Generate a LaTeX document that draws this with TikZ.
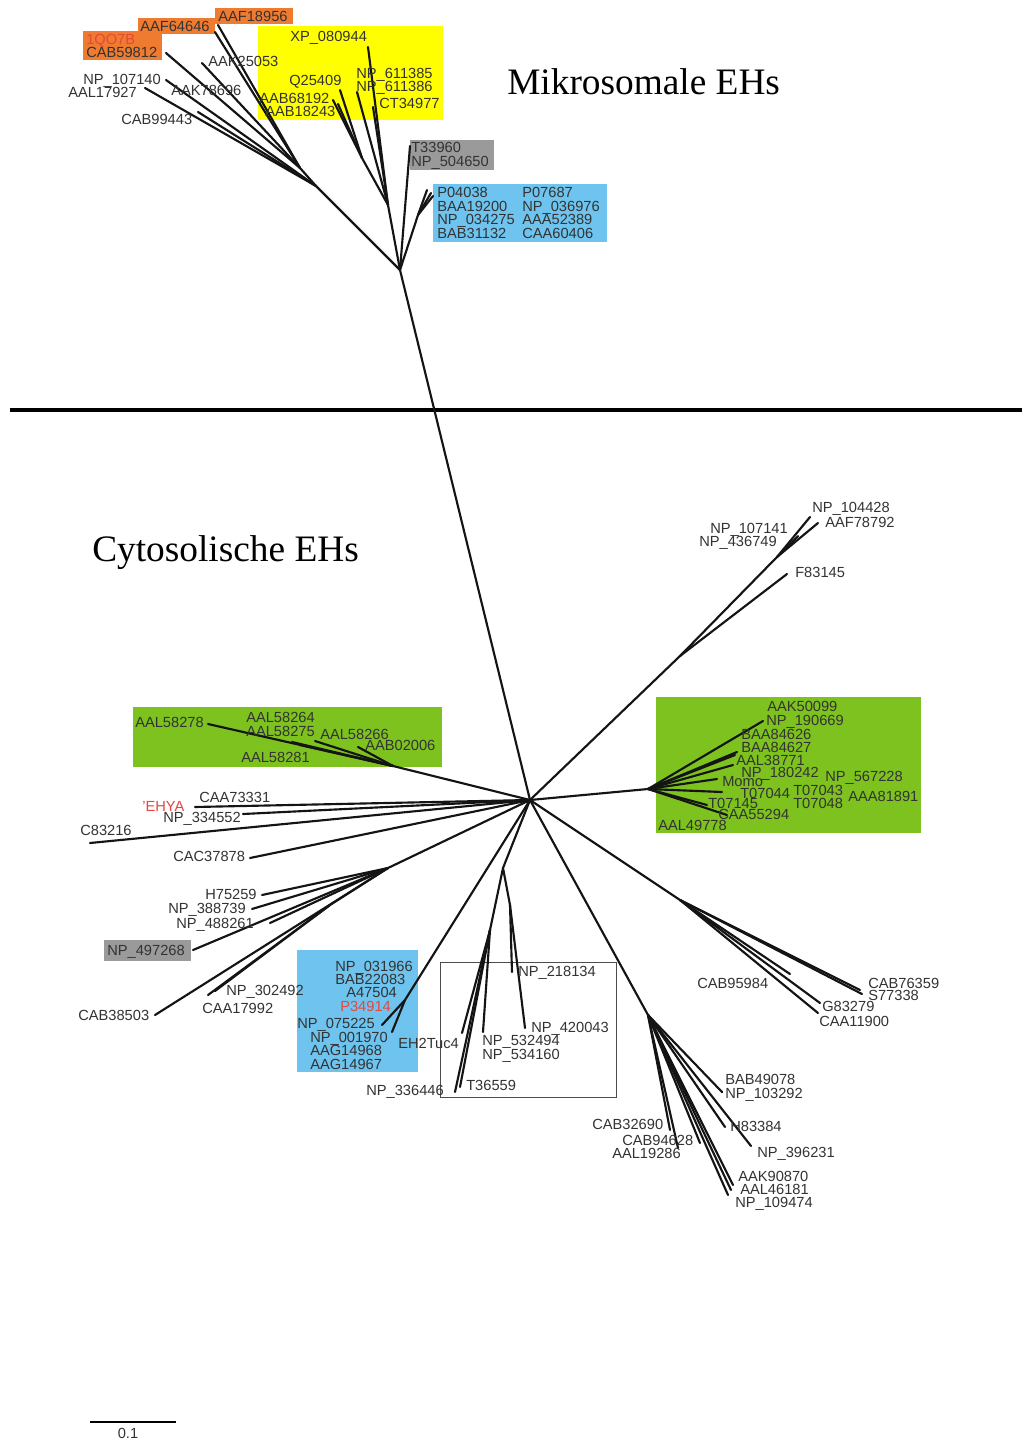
\documentclass[tikz,border=0pt]{standalone}
\usepackage{fontspec}
\setmainfont{Liberation Serif}
\setsansfont{Liberation Sans}
\definecolor{txtgray}{HTML}{333333}
\definecolor{orbox}{HTML}{EE7B30}
\definecolor{yebox}{HTML}{FFFF00}
\definecolor{grbox}{HTML}{9A9A9A}
\definecolor{blbox}{HTML}{6EC4EE}
\definecolor{gnbox}{HTML}{7DC21E}
\definecolor{redtxt}{HTML}{E8453C}
\begin{document}
\begin{tikzpicture}[x=0.75pt,y=-0.75pt,
  branch/.style={line width=1.6pt,line cap=round,line join=round,draw=black!92},
  lab/.style={anchor=base west,inner sep=0pt,yshift=-4.1pt,
    font=\sffamily\fontsize{11}{11}\selectfont,text=txtgray},
  redlab/.style={lab,text=redtxt},
  title/.style={anchor=base west,inner sep=0pt,font=\rmfamily\fontsize{28}{28}\selectfont,text=black}]
\useasboundingbox (0,0) rectangle (1022,1441);
\fill[white] (0,0) rectangle (1022,1441);

% coloured boxes behind the groups
\fill[orbox] (83,31) rectangle (162,60);
\fill[orbox] (138,18) rectangle (215,34);
\fill[orbox] (215,8) rectangle (293,24);
\fill[yebox] (258,26) rectangle (443,120);
\fill[grbox] (410,140) rectangle (494,170);
\fill[blbox] (433,184) rectangle (607,242);
\fill[gnbox] (133,707) rectangle (442,767);
\fill[gnbox] (656,697) rectangle (921,833);
\fill[grbox] (104,940) rectangle (191,961);
\fill[blbox] (297,950) rectangle (418,1072);
\draw[black!70,line width=0.6pt] (440,962) rectangle (616,1097);

% separator between the two families
\draw[line width=2.3pt] (10,410) -- (1022,410);

% ---------- internal nodes ----------
\coordinate (top) at (400,270);
\coordinate (cen) at (530,800);
\coordinate (tL) at (316,186);
\coordinate (tLa) at (300,168);
\coordinate (tY) at (388,205);
\coordinate (tYa) at (362,158);
\coordinate (tB) at (418,215);
\coordinate (nR1) at (680,656);
\coordinate (nR2) at (777,557);
\coordinate (gR) at (648,789);
\coordinate (gL) at (393,766);
\coordinate (nLL) at (388,868);
\coordinate (nLL2) at (330,905);
\coordinate (nBl) at (405,1000);
\coordinate (nBox) at (503,868);
\coordinate (nBoxA) at (510,905);
\coordinate (nBoxB) at (490,930);
\coordinate (nDR) at (680,900);
\coordinate (nB) at (648,1015);

% ---------- tree ----------
\draw[branch] (cen) -- (top);
% microsomal part
\draw[branch] (top) -- (tL) -- (tLa);
\foreach \p [count=\i] in {(198,112),(145,88),(166,80)}
  \draw[branch] (tL) -- \p coordinate (tL-\i);
\foreach \p [count=\i] in {(166,53),(202,63),(215,32),(218,25)}
  \draw[branch] (tLa) -- \p coordinate (tLa-\i);
\draw[branch] (top) -- (tY) -- (tYa);
\foreach \p [count=\i] in {(368,47),(357,92),(373,107)}
  \draw[branch] (tY) -- \p coordinate (tY-\i);
\foreach \p [count=\i] in {(340,90),(333,100),(338,104)}
  \draw[branch] (tYa) -- \p coordinate (tYa-\i);
\draw[branch] (top) -- (410,146) coordinate (t33960);
\draw[branch] (top) -- (tB);
\foreach \p [count=\i] in {(427,190),(431,193),(433,196)}
  \draw[branch] (tB) -- \p coordinate (tB-\i);

% cytosolic part
\draw[branch] (cen) -- (nR1) -- (nR2);
\draw[branch] (nR1) -- (787,574) coordinate (f83145);
\foreach \p [count=\i] in {(810,517),(818,523),(798,536)}
  \draw[branch] (nR2) -- \p coordinate (nR2-\i);
\draw[branch] (cen) -- (gR);
\foreach \p [count=\i] in {(763,721),(737,752),(735,755),(733,765),(717,779),(722,792),(707,805),(727,815)}
  \draw[branch] (gR) -- \p coordinate (gR-\i);
\draw[branch] (cen) -- (gL);
\foreach \p [count=\i] in {(208,724),(292,742),(300,745),(315,741),(358,747)}
  \draw[branch] (gL) -- \p coordinate (gL-\i);
\foreach \p [count=\i] in {(195,807),(243,814),(90,843),(250,858)}
  \draw[branch] (cen) -- \p coordinate (cL-\i);
\draw[branch] (cen) -- (nLL) -- (nLL2);
\foreach \p [count=\i] in {(262,895),(252,909),(270,923),(193,950),(155,1015)}
  \draw[branch] (nLL) -- \p coordinate (nLL-\i);
\foreach \p [count=\i] in {(208,995),(215,991)}
  \draw[branch] (nLL2) -- \p coordinate (nLL2-\i);
\draw[branch] (cen) -- (nBl);
\foreach \p [count=\i] in {(382,1025),(392,1032)}
  \draw[branch] (nBl) -- \p coordinate (nBl-\i);
\draw[branch] (cen) -- (nBox) -- (nBoxA);
\draw[branch] (nBox) -- (nBoxB);
\foreach \p [count=\i] in {(512,972),(525,1028)}
  \draw[branch] (nBoxA) -- \p coordinate (nBoxA-\i);
\foreach \p [count=\i] in {(483,1032),(462,1033),(460,1087),(455,1092)}
  \draw[branch] (nBoxB) -- \p coordinate (nBoxB-\i);
\draw[branch] (cen) -- (nDR);
\foreach \p [count=\i] in {(790,974),(860,990),(862,994),(820,1003),(818,1013)}
  \draw[branch] (nDR) -- \p coordinate (nDR-\i);
\draw[branch] (cen) -- (nB);
\foreach \p [count=\i] in {(722,1092),(725,1127),(751,1146),(733,1185),(728,1195),(731,1190),(670,1130),(700,1143),(678,1148)}
  \draw[branch] (nB) -- \p coordinate (nB-\i);

% ---------- titles ----------
\node[title] (ttlM) at (507,95) {Mikrosomale EHs};
\node[title] (ttlC) at (92,561) {Cytosolische EHs};

% ---------- labels: microsomal ----------
\node[redlab] (l1qo7b) at (86,39) {1QO7B};
\node[lab] (lcab59812) at (86,52) {CAB59812};
\node[lab] (laaf64646) at (140,26) {AAF64646};
\node[lab] (laaf18956) at (218,16) {AAF18956};
\node[lab] (lxp080944) at (290,36) {XP\_080944};
\node[lab] (laak25053) at (208,61) {AAK25053};
\node[lab] (lnp107140) at (83,79) {NP\_107140};
\node[lab] (laal17927) at (68,92) {AAL17927};
\node[lab] (laak78696) at (171,90) {AAK78696};
\node[lab] (lcab99443) at (121,119) {CAB99443};
\node[lab] (lq25409) at (289,80) {Q25409};
\node[lab] (laab68192) at (259,98) {AAB68192};
\node[lab] (laab18243) at (265,111) {AAB18243};
\node[lab] (lnp611385) at (356,73) {NP\_611385};
\node[lab] (lnp611386) at (356,86) {NP\_611386};
\node[lab] (lct34977) at (379,103) {CT34977};
\node[lab] (lt33960) at (411,147) {T33960};
\node[lab] (lnp504650) at (411,161) {NP\_504650};
\node[lab] (lp04038) at (437,192) {P04038};
\node[lab] (lp07687) at (522,192) {P07687};
\node[lab] (lbaa19200) at (437,206) {BAA19200};
\node[lab] (lnp036976) at (522,206) {NP\_036976};
\node[lab] (lnp034275) at (437,219) {NP\_034275};
\node[lab] (laaa52389) at (522,219) {AAA52389};
\node[lab] (lbab31132) at (437,233) {BAB31132};
\node[lab] (lcaa60406) at (522,233) {CAA60406};

% ---------- labels: cytosolic ----------
\node[lab] (lnp104428) at (812,507) {NP\_104428};
\node[lab] (laaf78792) at (825,522) {AAF78792};
\node[lab] (lnp107141) at (710,528) {NP\_107141};
\node[lab] (lnp436749) at (699,541) {NP\_436749};
\node[lab] (lf83145) at (795,572) {F83145};
\node[lab] (laak50099) at (767,706) {AAK50099};
\node[lab] (lnp190669) at (766,720) {NP\_190669};
\node[lab] (lbaa84626) at (741,734) {BAA84626};
\node[lab] (lbaa84627) at (741,747) {BAA84627};
\node[lab] (laal38771) at (736,760) {AAL38771};
\node[lab] (lnp180242) at (741,772) {NP\_180242};
\node[lab] (lnp567228) at (825,776) {NP\_567228};
\node[lab] (lmomo) at (722,781) {Momo};
\node[lab] (lt07044) at (740,793) {T07044};
\node[lab] (lt07043) at (793,790) {T07043};
\node[lab] (laaa81891) at (848,796) {AAA81891};
\node[lab] (lt07145) at (708,803) {T07145};
\node[lab] (lt07048) at (793,803) {T07048};
\node[lab] (lcaa55294) at (718,814) {CAA55294};
\node[lab] (laal49778) at (658,825) {AAL49778};
\node[lab] (laal58278) at (135,722) {AAL58278};
\node[lab] (laal58264) at (246,717) {AAL58264};
\node[lab] (laal58275) at (246,731) {AAL58275};
\node[lab] (laal58266) at (320,734) {AAL58266};
\node[lab] (laab02006) at (365,745) {AAB02006};
\node[lab] (laal58281) at (241,757) {AAL58281};
\node[redlab] (lehya) at (142,806) {'EHYA};
\node[lab] (lcaa73331) at (199,797) {CAA73331};
\node[lab] (lnp334552) at (163,817) {NP\_334552};
\node[lab] (lc83216) at (80,830) {C83216};
\node[lab] (lcac37878) at (173,856) {CAC37878};
\node[lab] (lh75259) at (205,894) {H75259};
\node[lab] (lnp388739) at (168,908) {NP\_388739};
\node[lab] (lnp488261) at (176,923) {NP\_488261};
\node[lab] (lnp497268) at (107,950) {NP\_497268};
\node[lab] (lnp302492) at (226,990) {NP\_302492};
\node[lab] (lcaa17992) at (202,1008) {CAA17992};
\node[lab] (lcab38503) at (78,1015) {CAB38503};
\node[lab] (lnp031966) at (335,966) {NP\_031966};
\node[lab] (lbab22083) at (335,979) {BAB22083};
\node[lab] (la47504) at (346,992) {A47504};
\node[redlab] (lp34914) at (340,1006) {P34914};
\node[lab] (lnp075225) at (297,1023) {NP\_075225};
\node[lab] (lnp001970) at (310,1037) {NP\_001970};
\node[lab] (laag14968) at (310,1050) {AAG14968};
\node[lab] (laag14967) at (310,1064) {AAG14967};
\node[lab] (leh2tuc4) at (398,1043) {EH2Tuc4};
\node[lab] (lnp218134) at (518,971) {NP\_218134};
\node[lab] (lnp420043) at (531,1027) {NP\_420043};
\node[lab] (lnp532494) at (482,1040) {NP\_532494};
\node[lab] (lnp534160) at (482,1054) {NP\_534160};
\node[lab] (lt36559) at (466,1085) {T36559};
\node[lab] (lnp336446) at (366,1090) {NP\_336446};
\node[lab] (lcab95984) at (697,983) {CAB95984};
\node[lab] (lcab76359) at (868,983) {CAB76359};
\node[lab] (ls77338) at (868,995) {S77338};
\node[lab] (lg83279) at (822,1006) {G83279};
\node[lab] (lcaa11900) at (819,1021) {CAA11900};
\node[lab] (lbab49078) at (725,1079) {BAB49078};
\node[lab] (lnp103292) at (725,1093) {NP\_103292};
\node[lab] (lh83384) at (730,1126) {H83384};
\node[lab] (lnp396231) at (757,1152) {NP\_396231};
\node[lab] (lcab32690) at (592,1124) {CAB32690};
\node[lab] (lcab94628) at (622,1140) {CAB94628};
\node[lab] (laal19286) at (612,1153) {AAL19286};
\node[lab] (laak90870) at (738,1176) {AAK90870};
\node[lab] (laal46181) at (740,1189) {AAL46181};
\node[lab] (lnp109474) at (735,1202) {NP\_109474};

% ---------- scale bar ----------
\coordinate (sbA) at (90,1422);
\coordinate (sbB) at (176,1422);
\draw[line width=1.5pt] (sbA) -- (sbB);
\node[lab,anchor=base,yshift=0pt] (lscale) at (128,1433) {0.1};
\end{tikzpicture}
\end{document}
